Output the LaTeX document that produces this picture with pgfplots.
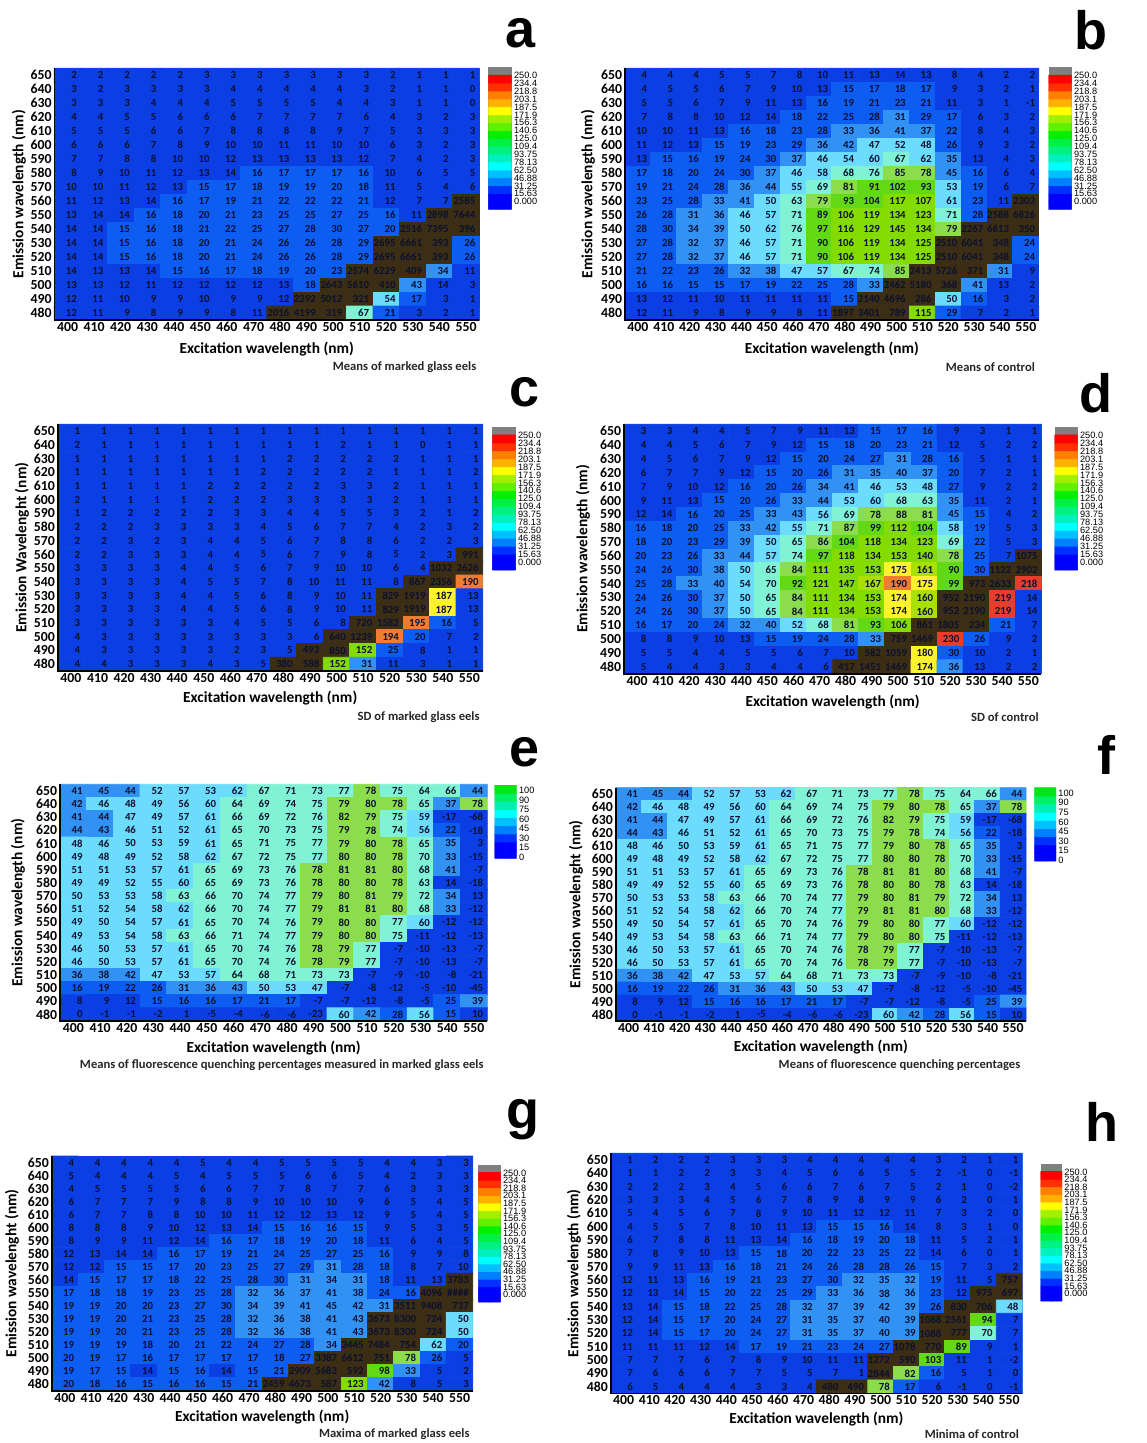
\documentclass[border=0pt]{standalone}
\usepackage{fontspec}
\usepackage{pgfplots}
\usepackage{pgfplotstable}
\pgfplotsset{compat=1.18}
\setmainfont{Carlito}
\newfontfamily\arialf{Liberation Sans}
\newcommand\tickf{\fontsize{6.9bp}{7.5bp}\selectfont\bfseries}
\newcommand\cellf{\fontsize{5.4bp}{6bp}\selectfont\bfseries}
\newcommand\labf{\fontsize{7.7bp}{8.5bp}\selectfont\bfseries}
\newcommand\titf{\fontsize{6.3bp}{7bp}\selectfont\bfseries}
\newcommand\legf{\fontsize{4.6bp}{5bp}\selectfont\arialf}
\newcommand\letf{\fontsize{27bp}{28bp}\selectfont\arialf\bfseries}
\definecolor{cellink}{HTML}{0C1030}
\definecolor{edgeblue}{HTML}{3F8FF0}
\pgfplotsset{colormap={eel}{
 rgb255(0)=(11,63,227) rgb255(14.2)=(11,63,227)
 rgb255(14.8)=(14,93,242) rgb255(30.2)=(14,93,242)
 rgb255(30.8)=(50,146,244) rgb255(45.2)=(50,146,244)
 rgb255(45.8)=(107,220,251) rgb255(62.2)=(107,220,251)
 rgb255(62.8)=(127,243,212) rgb255(77.2)=(127,243,212)
 rgb255(77.8)=(139,221,75) rgb255(88.2)=(139,221,75)
 rgb255(88.8)=(99,217,22) rgb255(105.2)=(99,217,22)
 rgb255(105.8)=(131,219,0) rgb255(155.2)=(131,219,0)
 rgb255(155.8)=(170,224,0) rgb255(170.2)=(170,224,0)
 rgb255(170.8)=(253,242,46) rgb255(188.2)=(253,242,46)
 rgb255(188.8)=(239,125,49) rgb255(205.2)=(239,125,49)
 rgb255(205.8)=(232,61,45) rgb255(232.2)=(232,61,45)
 rgb255(232.8)=(59,46,20) rgb255(255)=(59,46,20)}}
\pgfplotsset{colormap={legfull}{
 rgb255=(0,0,255) rgb255=(0,0,255) rgb255=(0,48,255) rgb255=(0,128,255) rgb255=(0,192,255)
 rgb255=(0,255,255) rgb255=(0,240,190) rgb255=(0,240,130) rgb255=(0,240,70) rgb255=(0,240,0)
 rgb255=(96,240,0) rgb255=(160,240,0)
 rgb255=(255,255,0) rgb255=(255,176,0) rgb255=(255,128,0) rgb255=(255,48,0)
 rgb255=(255,0,0)}}
\pgfplotsset{colormap={legpct}{
 rgb255=(0,0,255) rgb255=(0,0,255) rgb255=(0,48,255) rgb255=(0,128,255) rgb255=(0,192,255)
 rgb255=(0,255,255) rgb255=(0,240,180) rgb255=(0,240,100) rgb255=(0,230,20)}}
\newcommand\addd[1]{\pgfplotstablecreatecol[create col/expr={0}]{d}{#1}}
\pgfplotstableread[row sep=crcr]{v\\
2\\2\\2\\2\\2\\3\\3\\3\\3\\3\\3\\3\\2\\1\\1\\1\\
3\\2\\3\\3\\3\\3\\4\\4\\4\\4\\4\\3\\2\\1\\1\\0\\
3\\3\\3\\4\\4\\4\\5\\5\\5\\5\\4\\4\\3\\1\\1\\0\\
4\\4\\5\\5\\6\\6\\6\\7\\7\\7\\7\\6\\4\\3\\2\\3\\
5\\5\\5\\6\\6\\7\\8\\8\\8\\8\\9\\7\\5\\3\\3\\3\\
6\\6\\6\\7\\8\\9\\10\\10\\11\\11\\10\\10\\6\\3\\2\\3\\
7\\7\\8\\8\\10\\10\\12\\13\\13\\13\\13\\12\\7\\4\\2\\3\\
8\\9\\10\\11\\12\\13\\14\\16\\17\\17\\17\\16\\10\\6\\5\\5\\
10\\10\\11\\12\\13\\15\\17\\18\\19\\19\\20\\18\\11\\5\\4\\6\\
11\\12\\13\\14\\16\\17\\19\\21\\22\\22\\22\\21\\12\\7\\7\\2585\\
13\\14\\14\\16\\18\\20\\21\\23\\25\\25\\27\\25\\16\\11\\2898\\7644\\
14\\14\\15\\16\\18\\21\\22\\25\\27\\28\\30\\27\\20\\2516\\7395\\396\\
14\\14\\15\\16\\18\\20\\21\\24\\26\\26\\28\\29\\2695\\6661\\393\\26\\
14\\14\\15\\16\\18\\20\\21\\24\\26\\26\\28\\29\\2695\\6661\\393\\26\\
14\\13\\13\\14\\15\\16\\17\\18\\19\\20\\23\\2574\\6229\\409\\34\\11\\
13\\13\\12\\11\\12\\12\\12\\12\\13\\18\\2643\\5610\\410\\43\\14\\3\\
12\\11\\10\\9\\9\\10\\9\\9\\12\\2292\\5012\\321\\54\\17\\3\\1\\
12\\11\\9\\8\\9\\9\\8\\11\\2016\\4199\\319\\67\\21\\3\\2\\1\\
}\tblA
\pgfplotstableread[row sep=crcr]{v\\
4\\4\\4\\5\\5\\7\\8\\10\\11\\13\\14\\13\\8\\4\\2\\2\\
4\\5\\5\\6\\7\\9\\10\\13\\15\\17\\18\\17\\9\\3\\2\\1\\
5\\5\\6\\7\\9\\11\\13\\16\\19\\21\\23\\21\\11\\3\\1\\-1\\
7\\8\\8\\10\\12\\14\\18\\22\\25\\28\\31\\29\\17\\6\\3\\2\\
10\\10\\11\\13\\16\\18\\23\\28\\33\\36\\41\\37\\22\\8\\4\\3\\
11\\12\\13\\15\\19\\23\\29\\36\\42\\47\\52\\48\\26\\9\\3\\2\\
13\\15\\16\\19\\24\\30\\37\\46\\54\\60\\67\\62\\35\\13\\4\\3\\
17\\18\\20\\24\\30\\37\\46\\58\\68\\76\\85\\78\\45\\16\\6\\4\\
19\\21\\24\\28\\36\\44\\55\\69\\81\\91\\102\\93\\53\\19\\6\\7\\
23\\25\\28\\33\\41\\50\\63\\79\\93\\104\\117\\107\\61\\23\\11\\2303\\
26\\28\\31\\36\\46\\57\\71\\89\\106\\119\\134\\123\\71\\28\\2588\\6826\\
28\\30\\34\\39\\50\\62\\76\\97\\116\\129\\145\\134\\79\\2267\\6613\\350\\
27\\28\\32\\37\\46\\57\\71\\90\\106\\119\\134\\125\\2510\\6041\\348\\24\\
27\\28\\32\\37\\46\\57\\71\\90\\106\\119\\134\\125\\2510\\6041\\348\\24\\
21\\22\\23\\26\\32\\38\\47\\57\\67\\74\\85\\2413\\5726\\371\\31\\9\\
16\\16\\15\\15\\17\\19\\22\\25\\28\\33\\2462\\5180\\368\\41\\13\\2\\
13\\12\\11\\10\\11\\11\\11\\11\\15\\2140\\4696\\286\\50\\16\\3\\2\\
12\\11\\9\\8\\9\\9\\8\\11\\1897\\3401\\789\\115\\29\\7\\2\\1\\
}\tblB
\pgfplotstableread[row sep=crcr]{v\\
1\\1\\1\\1\\1\\1\\1\\1\\1\\1\\1\\1\\1\\1\\1\\1\\
2\\1\\1\\1\\1\\1\\1\\1\\1\\1\\2\\1\\1\\0\\1\\1\\
1\\1\\1\\1\\1\\1\\1\\1\\2\\2\\2\\2\\2\\1\\1\\1\\
1\\1\\1\\1\\1\\1\\1\\2\\2\\2\\2\\2\\1\\1\\1\\2\\
1\\1\\1\\1\\1\\2\\2\\2\\2\\2\\3\\3\\2\\1\\1\\1\\
2\\1\\1\\1\\1\\2\\2\\2\\3\\3\\3\\3\\2\\1\\1\\1\\
1\\2\\2\\2\\2\\2\\3\\3\\4\\4\\5\\5\\3\\2\\1\\2\\
2\\2\\2\\3\\3\\3\\3\\4\\5\\6\\7\\7\\4\\2\\3\\2\\
2\\2\\3\\2\\3\\4\\4\\5\\6\\7\\8\\8\\6\\2\\2\\3\\
2\\2\\3\\3\\3\\4\\4\\5\\6\\7\\9\\8\\5\\2\\3\\991\\
3\\3\\3\\3\\4\\4\\5\\6\\7\\9\\10\\10\\6\\4\\1032\\2626\\
3\\3\\3\\3\\4\\5\\5\\7\\8\\10\\11\\11\\8\\867\\2356\\190\\
3\\3\\3\\3\\4\\4\\5\\6\\8\\9\\10\\11\\829\\1919\\187\\13\\
3\\3\\3\\3\\4\\4\\5\\6\\8\\9\\10\\11\\829\\1919\\187\\13\\
3\\3\\3\\3\\3\\3\\4\\5\\5\\6\\8\\720\\1582\\195\\16\\5\\
4\\3\\3\\3\\3\\3\\3\\3\\3\\6\\640\\1239\\194\\20\\7\\2\\
4\\3\\3\\3\\3\\3\\2\\3\\5\\493\\850\\152\\25\\8\\1\\1\\
4\\4\\3\\3\\3\\4\\3\\5\\380\\588\\152\\31\\11\\3\\1\\1\\
}\tblC
\pgfplotstableread[row sep=crcr]{v\\
3\\3\\4\\4\\5\\7\\9\\11\\13\\15\\17\\16\\9\\3\\1\\1\\
4\\4\\5\\6\\7\\9\\12\\15\\18\\20\\23\\21\\12\\5\\2\\2\\
4\\5\\6\\7\\9\\12\\15\\20\\24\\27\\31\\28\\16\\5\\1\\1\\
6\\7\\7\\9\\12\\15\\20\\26\\31\\35\\40\\37\\20\\7\\2\\1\\
7\\9\\10\\12\\16\\20\\26\\34\\41\\46\\53\\48\\27\\9\\2\\2\\
9\\11\\13\\15\\20\\26\\33\\44\\53\\60\\68\\63\\35\\11\\2\\1\\
12\\14\\16\\20\\25\\33\\43\\56\\69\\78\\88\\81\\45\\15\\4\\2\\
16\\18\\20\\25\\33\\42\\55\\71\\87\\99\\112\\104\\58\\19\\5\\3\\
18\\20\\23\\29\\39\\50\\65\\86\\104\\118\\134\\123\\69\\22\\5\\3\\
20\\23\\26\\33\\44\\57\\74\\97\\118\\134\\153\\140\\78\\25\\7\\1075\\
24\\26\\30\\38\\50\\65\\84\\111\\135\\153\\175\\161\\90\\30\\1122\\2902\\
25\\28\\33\\40\\54\\70\\92\\121\\147\\167\\190\\175\\99\\973\\2633\\218\\
24\\26\\30\\37\\50\\65\\84\\111\\134\\153\\174\\160\\952\\2190\\219\\14\\
24\\26\\30\\37\\50\\65\\84\\111\\134\\153\\174\\160\\952\\2190\\219\\14\\
16\\17\\20\\24\\32\\40\\52\\68\\81\\93\\106\\861\\1805\\234\\21\\7\\
8\\8\\9\\10\\13\\15\\19\\24\\28\\33\\759\\1469\\230\\26\\9\\2\\
5\\5\\4\\4\\5\\5\\6\\7\\10\\582\\1059\\180\\30\\10\\2\\1\\
5\\4\\4\\3\\3\\4\\4\\6\\417\\1451\\1469\\174\\36\\13\\2\\2\\
}\tblD
\pgfplotstableread[row sep=crcr]{v\\
41\\45\\44\\52\\57\\53\\62\\67\\71\\73\\77\\78\\75\\64\\66\\44\\
42\\46\\48\\49\\56\\60\\64\\69\\74\\75\\79\\80\\78\\65\\37\\78\\
41\\44\\47\\49\\57\\61\\66\\69\\72\\76\\82\\79\\75\\59\\-17\\-68\\
44\\43\\46\\51\\52\\61\\65\\70\\73\\75\\79\\78\\74\\56\\22\\-18\\
48\\46\\50\\53\\59\\61\\65\\71\\75\\77\\79\\80\\78\\65\\35\\3\\
49\\48\\49\\52\\58\\62\\67\\72\\75\\77\\80\\80\\78\\70\\33\\-15\\
51\\51\\53\\57\\61\\65\\69\\73\\76\\78\\81\\81\\80\\68\\41\\-7\\
49\\49\\52\\55\\60\\65\\69\\73\\76\\78\\80\\80\\78\\63\\14\\-18\\
50\\53\\53\\58\\63\\66\\70\\74\\77\\79\\80\\81\\79\\72\\34\\13\\
51\\52\\54\\58\\62\\66\\70\\74\\77\\79\\81\\81\\80\\68\\33\\-12\\
49\\50\\54\\57\\61\\65\\70\\74\\76\\79\\80\\80\\77\\60\\-12\\-12\\
49\\53\\54\\58\\63\\66\\71\\74\\77\\79\\80\\80\\75\\-11\\-12\\-13\\
46\\50\\53\\57\\61\\65\\70\\74\\76\\78\\79\\77\\-7\\-10\\-13\\-7\\
46\\50\\53\\57\\61\\65\\70\\74\\76\\78\\79\\77\\-7\\-10\\-13\\-7\\
36\\38\\42\\47\\53\\57\\64\\68\\71\\73\\73\\-7\\-9\\-10\\-8\\-21\\
16\\19\\22\\26\\31\\36\\43\\50\\53\\47\\-7\\-8\\-12\\-5\\-10\\-45\\
8\\9\\12\\15\\16\\16\\17\\21\\17\\-7\\-7\\-12\\-8\\-5\\25\\39\\
0\\-1\\-1\\-2\\1\\-5\\-4\\-6\\-6\\-23\\60\\42\\28\\56\\15\\10\\
}\tblE
\pgfplotstableread[row sep=crcr]{v\\
4\\4\\4\\4\\4\\5\\4\\4\\5\\5\\5\\5\\4\\4\\3\\3\\
5\\4\\4\\4\\5\\4\\5\\5\\5\\6\\6\\5\\4\\2\\3\\3\\
4\\5\\5\\5\\5\\6\\6\\7\\7\\8\\7\\7\\6\\3\\3\\3\\
6\\7\\7\\7\\9\\8\\8\\9\\10\\10\\10\\9\\6\\5\\4\\5\\
6\\7\\7\\8\\8\\10\\10\\11\\12\\12\\13\\12\\9\\5\\4\\5\\
8\\8\\8\\9\\10\\12\\13\\14\\15\\16\\16\\15\\9\\5\\3\\5\\
8\\9\\9\\11\\12\\14\\16\\17\\18\\19\\20\\18\\11\\6\\4\\5\\
12\\13\\14\\14\\16\\17\\19\\21\\24\\25\\27\\25\\16\\9\\9\\8\\
12\\12\\15\\15\\17\\20\\23\\25\\27\\29\\31\\28\\18\\8\\7\\10\\
14\\15\\17\\17\\18\\22\\25\\28\\30\\31\\34\\31\\18\\11\\13\\3783\\
17\\18\\18\\19\\23\\25\\28\\32\\36\\37\\41\\38\\24\\16\\4096\\9999\\
19\\19\\20\\20\\23\\27\\30\\34\\39\\41\\45\\42\\31\\3511\\9408\\737\\
19\\19\\20\\21\\23\\25\\28\\32\\36\\38\\41\\43\\3673\\8300\\724\\50\\
19\\19\\20\\21\\23\\25\\28\\32\\36\\38\\41\\43\\3673\\8300\\724\\50\\
19\\19\\19\\18\\20\\21\\22\\24\\27\\28\\34\\3445\\7484\\754\\62\\20\\
20\\19\\17\\16\\17\\17\\17\\17\\18\\27\\3387\\6612\\751\\78\\26\\5\\
19\\17\\15\\14\\15\\16\\14\\15\\21\\2909\\5683\\592\\98\\33\\5\\2\\
20\\18\\16\\15\\16\\16\\15\\21\\2459\\4673\\587\\123\\42\\8\\5\\3\\
}\tblG
\pgfplotstableread[row sep=crcr]{v\\
1\\2\\2\\2\\3\\3\\3\\4\\4\\4\\4\\4\\3\\2\\1\\1\\
1\\1\\2\\2\\3\\3\\4\\5\\6\\6\\5\\5\\2\\-1\\0\\-1\\
2\\2\\2\\3\\4\\5\\6\\6\\7\\6\\7\\5\\2\\1\\0\\-2\\
3\\3\\3\\4\\5\\6\\7\\8\\9\\8\\9\\9\\6\\2\\0\\1\\
5\\4\\5\\6\\7\\8\\9\\10\\11\\12\\12\\11\\7\\3\\2\\0\\
4\\5\\5\\7\\8\\10\\11\\13\\15\\15\\16\\14\\8\\3\\1\\0\\
6\\7\\8\\8\\11\\13\\14\\16\\18\\19\\20\\18\\11\\5\\2\\1\\
7\\8\\9\\10\\13\\15\\18\\20\\22\\23\\25\\22\\14\\6\\0\\1\\
9\\9\\11\\13\\16\\18\\21\\24\\26\\28\\28\\26\\15\\7\\3\\2\\
12\\11\\13\\16\\19\\21\\23\\27\\30\\32\\35\\32\\19\\11\\5\\757\\
12\\13\\14\\15\\20\\22\\25\\29\\33\\36\\38\\36\\23\\12\\975\\697\\
13\\14\\15\\18\\22\\25\\28\\32\\37\\39\\42\\39\\26\\830\\706\\48\\
12\\14\\15\\17\\20\\24\\27\\31\\35\\37\\40\\39\\1088\\2561\\94\\7\\
12\\14\\15\\17\\20\\24\\27\\31\\35\\37\\40\\39\\1088\\777\\70\\7\\
11\\11\\11\\12\\14\\17\\19\\21\\23\\24\\27\\1078\\770\\89\\9\\1\\
7\\7\\7\\6\\7\\8\\9\\10\\11\\11\\1272\\590\\103\\11\\1\\-2\\
7\\6\\6\\6\\7\\7\\5\\5\\7\\1\\2844\\82\\16\\5\\1\\0\\
6\\5\\4\\4\\4\\3\\3\\4\\480\\490\\78\\17\\6\\-1\\0\\-1\\
}\tblH
\pgfplotstableread[row sep=crcr]{v\\
0.5\\0.5\\1.5\\1.5\\2.5\\2.5\\3.5\\3.5\\4.5\\4.5\\5.5\\5.5\\6.5\\6.5\\7.5\\7.5\\8.5\\8.5\\
9.5\\9.5\\10.5\\10.5\\11.5\\11.5\\12.5\\12.5\\13.5\\13.5\\14.5\\14.5\\15.5\\15.5\\16.5\\16.5\\
}\tblLegFull
\pgfplotstableread[row sep=crcr]{v\\
0.5\\0.5\\1.5\\1.5\\2.5\\2.5\\3.5\\3.5\\4.5\\4.5\\5.5\\5.5\\6.5\\6.5\\7.5\\7.5\\8.5\\8.5\\
}\tblLegPct
\addd\tblA \addd\tblB \addd\tblC \addd\tblD \addd\tblE \addd\tblG \addd\tblH
\addd\tblLegFull \addd\tblLegPct
\pgfkeys{/panel/.cd,
 L/.store in=\pL,R/.store in=\pR,T/.store in=\pT,B/.store in=\pB,
 tbl/.store in=\pTbl,ylab/.store in=\pYlab,ylabx/.store in=\pYlabx,xlaby/.store in=\pXlaby,
 title/.store in=\pTitle,titlex/.store in=\pTitlex,titley/.store in=\pTitley,
 letter/.store in=\pLetter,letx/.store in=\pLetx,lety/.store in=\pLety,
 border/.store in=\pBorder,border=edgeblue}
\def\hashval{9999}
\newcommand\celltext{%
 \pgfmathprintnumberto[fixed,precision=0,set thousands separator={},assume math mode=true]{\pgfplotspointmeta}{\celltmp}%
 \ifx\celltmp\hashval\#\#\#\#\else\celltmp\fi}
\newcommand\doPlot[1]{%
 \addplot[matrix plot*,mesh/cols=16,mesh/ordering=x varies,point meta=explicit,
  nodes near coords={\celltext},
  every node near coord/.append style={anchor=east,xshift=4.8bp,yshift=0bp,inner sep=0pt,font=\cellf,text=cellink}]
  table[x expr={400+10*mod(\coordindex,16)},y expr={650-10*floor((\coordindex+0.5)/16)},meta=v]{#1};
}
\newcommand\panel[1]{%
 \pgfkeys{/panel/.cd,#1}%
 \pgfmathsetmacro\ax{\pL*0.5}\pgfmathsetmacro\ay{\pT*0.5}%
 \pgfmathsetmacro\aw{(\pR-\pL)*0.5}\pgfmathsetmacro\ah{(\pB-\pT)*0.5}%
 \pgfmathsetmacro\yfrac{(\pYlabx-\pL)/(\pR-\pL)}%
 \pgfmathsetmacro\xfrac{(\pB-\pXlaby)/(\pB-\pT)}%
 \begin{axis}[
  at={(\ax bp,-\ay bp)},anchor=north west,scale only axis,
  width=\aw bp,height=\ah bp,clip=false,
  xmin=395,xmax=555,ymin=475,ymax=655,
  xtick={400,410,...,550},ytick={480,490,...,650},
  tick style={draw=none},major tick length=0pt,
  /pgf/number format/assume math mode=true,
  /pgf/number format/set thousands separator={},
  xticklabel style={font=\tickf,inner sep=1.2bp,text height=4.4bp,text depth=0pt},
  yticklabel style={font=\tickf,inner sep=1.2bp},
  xlabel={Excitation wavelength (nm)},ylabel={\pYlab},
  xlabel style={font=\labf,at={(axis description cs:0.5,\xfrac)},anchor=center},
  ylabel style={font=\labf,at={(axis description cs:\yfrac,0.5)},anchor=center},
  axis line style={draw=\pBorder,line width=0.4bp},
  colormap name=eel,point meta min=0,point meta max=255,
 ]
 \expandafter\doPlot\csname tbl\pTbl\endcsname
 \draw[black,line width=0.8bp](rel axis cs:0,1)--(rel axis cs:0,0)--(rel axis cs:1,0);
 \end{axis}
 \pgfmathsetmacro\tx{\pTitlex*0.5}\pgfmathsetmacro\ty{\pTitley*0.5}%
 \node[anchor=east,inner sep=0pt,font=\titf,text=black!85] at (\tx bp,-\ty bp){\pTitle};
 \pgfmathsetmacro\lx{\pLetx*0.5}\pgfmathsetmacro\ly{\pLety*0.5}%
 \node[inner sep=0pt,font=\letf] at (\lx bp,-\ly bp){\pLetter};
}
\newcommand\legfull[4]{%
 \pgfmathsetmacro\ax{#1*0.5}\pgfmathsetmacro\ay{#3*0.5}%
 \pgfmathsetmacro\aw{(#2-#1)*0.5}\pgfmathsetmacro\ah{(#4-#3)*0.5}%
 \begin{axis}[at={(\ax bp,-\ay bp)},anchor=north west,scale only axis,
  width=\aw bp,height=\ah bp,xmin=-0.5,xmax=1.5,ymin=0,ymax=18,
  xtick=\empty,ytick pos=right,yticklabel pos=right,
  ytick={0.97,1.97,2.97,3.97,4.97,5.97,6.97,7.97,8.97,9.97,10.97,11.97,12.97,13.97,14.97,15.97,16.97},
  yticklabels={0.000,15.63,31.25,46.88,62.50,78.13,93.75,109.4,125.0,140.6,156.3,171.9,187.5,203.1,218.8,234.4,250.0},
  yticklabel style={font=\legf,anchor=west,inner sep=1bp},
  major tick length=0pt,tick style={draw=none},axis line style={draw=none},
  colormap name=legfull,colormap access=piecewise constant,point meta min=0,point meta max=17,
  axis background/.style={fill=gray}]
 \addplot[matrix plot*,mesh/cols=2,mesh/ordering=x varies,point meta=explicit,shader=flat corner]
  table[x expr={mod(\coordindex,2)},y expr={floor((\coordindex+0.5)/2)+0.5},meta=v]{\tblLegFull};
 \end{axis}}
\newcommand\legpct[4]{%
 \pgfmathsetmacro\ax{#1*0.5}\pgfmathsetmacro\ay{#3*0.5}%
 \pgfmathsetmacro\aw{(#2-#1)*0.5}\pgfmathsetmacro\ah{(#4-#3)*0.5}%
 \begin{axis}[at={(\ax bp,-\ay bp)},anchor=north west,scale only axis,
  width=\aw bp,height=\ah bp,xmin=-0.5,xmax=1.5,ymin=0,ymax=9,
  xtick=\empty,ytick pos=right,yticklabel pos=right,
  ytick={0.12,1.29,2.46,3.64,4.81,5.98,7.15,8.32},
  yticklabels={0,15,30,45,60,75,90,100},
  yticklabel style={font=\legf,anchor=west,inner sep=1bp},
  major tick length=0pt,tick style={draw=none},axis line style={draw=none},
  colormap name=legpct,colormap access=piecewise constant,point meta min=0,point meta max=9]
 \addplot[matrix plot*,mesh/cols=2,mesh/ordering=x varies,point meta=explicit,shader=flat corner]
  table[x expr={mod(\coordindex,2)},y expr={floor((\coordindex+0.5)/2)+0.5},meta=v]{\tblLegPct};
 \end{axis}}
\begin{document}
\begin{tikzpicture}
\path[use as bounding box](0,0) rectangle (573.5bp,-721.5bp);
\panel{L=54.3,R=479.3,T=68.3,B=320,tbl=A,ylab={Emission wavelength (nm)},ylabx=19,xlaby=349,
 title={Means of marked glass eels},titlex=476.7,titley=367,letter=a,letx=521,lety=33,border=edgeblue}
\legfull{488.3}{511.7}{67.3}{209.3}
\panel{L=625,R=1038.7,T=68.3,B=320,tbl=B,ylab={Emission wavelength (nm)},ylabx=588,xlaby=349,
 title={Means of control},titlex=1035.3,titley=367,letter=b,letx=1091,lety=30}
\legfull{1048.7}{1071.7}{67.3}{209.3}
\panel{L=57.7,R=482.7,T=424.3,B=671,tbl=C,ylab={Emission Wavelenght (nm)},ylabx=22,xlaby=698,
 title={SD of marked glass eels},titlex=480,titley=716.7,letter=c,letx=525,lety=392}
\legfull{492.3}{515.7}{427}{570}
\panel{L=624,R=1041.3,T=424.3,B=673.7,tbl=D,ylab={Emission wavelength (nm)},ylabx=583,xlaby=701.7,
 title={SD of control},titlex=1039,titley=716.7,letter=d,letx=1096,lety=393}
\legfull{1054.7}{1077.7}{427}{570}
\panel{L=60,R=487.3,T=784.3,B=1021,tbl=E,ylab={Emission wavelength (nm)},ylabx=18,xlaby=1047.7,
 title={Means of fluorescence quenching percentages measured in marked glass eels},titlex=484,titley=1065,letter=e,letx=525,lety=752,border=none}
\legpct{494.7}{516.7}{785}{858.3}
\panel{L=615.7,R=1026,T=787.7,B=1021,tbl=E,ylab={Emission wavelenght (nm)},ylabx=576,xlaby=1047,
 title={Means of fluorescence quenching percentages},titlex=1020.7,titley=1065,letter=f,letx=1106,lety=755,border=none}
\legpct{1034.3}{1056}{787.7}{861}
\panel{L=51.7,R=472.7,T=1156,B=1390.7,tbl=G,ylab={Emission wavelenght (nm)},ylabx=12,xlaby=1416.7,
 title={Maxima of marked glass eels},titlex=470,titley=1434,letter=g,letx=523,lety=1120,border=edgeblue}
\legfull{478.3}{500.7}{1165}{1302}
\panel{L=610.7,R=1022,T=1153.3,B=1393.3,tbl=H,ylab={Emission wavelength (nm)},ylabx=574,xlaby=1419.3,
 title={Minima of control},titlex=1019.3,titley=1434,letter=h,letx=1102,lety=1122}
\legfull{1040.7}{1062}{1164}{1301}
\end{tikzpicture}
\end{document}
